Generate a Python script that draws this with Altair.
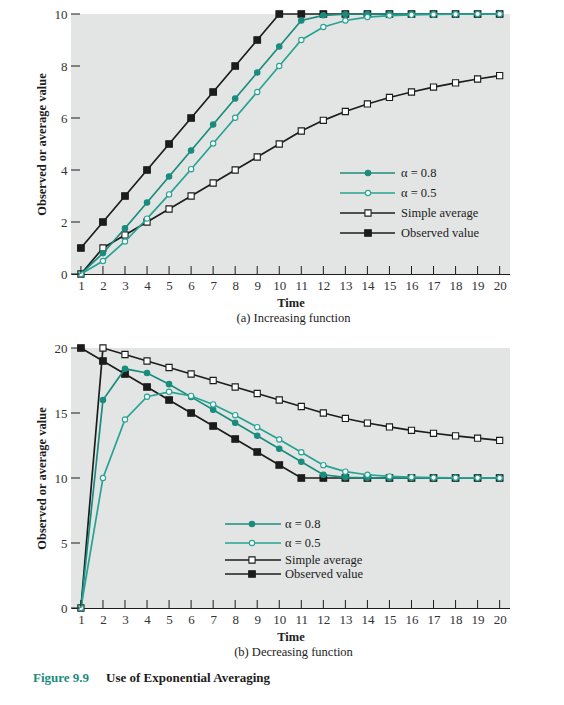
import altair as alt
import pandas as pd

# time axis and tick values
time = [1, 2, 3, 4, 5, 6, 7, 8, 9, 10, 11, 12, 13, 14, 15, 16, 17, 18, 19, 20]
inc_y_ticks = [0, 2, 4, 6, 8, 10]
dec_y_ticks = [0, 5, 10, 15, 20]

# (a) increasing function
inc_observed = [1, 2, 3, 4, 5, 6, 7, 8, 9, 10, 10, 10, 10, 10, 10, 10, 10, 10, 10, 10]
inc_simple = [0, 1, 1.5, 2, 2.5, 3, 3.5, 4, 4.5, 5, 5.5, 5.91, 6.25, 6.54, 6.79, 7.0, 7.19, 7.35, 7.5, 7.63]
inc_a08 = [0, 0.8, 1.76, 2.75, 3.75, 4.75, 5.75, 6.75, 7.75, 8.75, 9.75, 9.95, 9.99, 10, 10, 10, 10, 10, 10, 10]
inc_a05 = [0, 0.5, 1.25, 2.13, 3.06, 4.03, 5.02, 6.01, 7.0, 8.0, 9.0, 9.5, 9.75, 9.88, 9.94, 9.97, 9.98, 9.99, 10, 10]

# (b) decreasing function
dec_observed = [20, 19, 18, 17, 16, 15, 14, 13, 12, 11, 10, 10, 10, 10, 10, 10, 10, 10, 10, 10]
dec_simple = [0, 20, 19.5, 19, 18.5, 18, 17.5, 17, 16.5, 16, 15.5, 15, 14.58, 14.23, 13.93, 13.67, 13.44, 13.24, 13.06, 12.89]
dec_a08 = [0, 16, 18.4, 18.08, 17.22, 16.24, 15.25, 14.25, 13.25, 12.25, 11.25, 10.25, 10.05, 10.01, 10, 10, 10, 10, 10, 10]
dec_a05 = [0, 10, 14.5, 16.25, 16.63, 16.31, 15.66, 14.83, 13.91, 12.96, 11.98, 10.99, 10.49, 10.25, 10.12, 10.06, 10.03, 10.02, 10.01, 10]

labels = ["\u03b1 = 0.8", "\u03b1 = 0.5", "Simple average", "Observed value"]

SERIF = "Liberation Serif"
TEAL = "#1a8c7d"
TEAL2 = "#27a393"
INK = "#1c1c1c"
BG = "#e2e5e4"
W, H = 439, 260

# name -> line colour, shape, fill, size
styles = {
    "Observed value": (INK, "square", INK, 44),
    "Simple average": (INK, "square", "white", 38),
    "\u03b1 = 0.8": (TEAL, "circle", TEAL, 30),
    "\u03b1 = 0.5": (TEAL2, "circle", "white", 28),
}


def panel(series, y_max, y_ticks, subtitle, legend, caption=False):
    rows = []
    for name, vals in series.items():
        for t, v in zip(time, vals):
            rows.append({"time": t, "value": v, "series": name})
    df = pd.DataFrame(rows)

    X = alt.X("time:Q", scale=alt.Scale(domain=[0.55, 20.47], nice=False, zero=False),
              axis=alt.Axis(values=time, tickSize=0, labelPadding=5, title="Time",
                            titlePadding=4, domainColor=INK, grid=False))
    Y = alt.Y("value:Q", scale=alt.Scale(domain=[0, y_max], nice=False),
              axis=alt.Axis(values=y_ticks, tickSize=0, labelPadding=4, domain=False,
                            title="Observed or average value", titlePadding=6, grid=False))

    layers = []
    # bottom to top drawing order
    for name in ["Observed value", "Simple average", "\u03b1 = 0.8", "\u03b1 = 0.5"]:
        color, shape, fill, size = styles[name]
        sub = alt.Chart(df).transform_filter(alt.datum.series == name)
        layers.append(sub.mark_line(color=color, strokeWidth=1.7).encode(x=X, y=Y))
        layers.append(sub.mark_point(shape=shape, filled=False, fill=fill, stroke=color,
                                     strokeWidth=1.1, size=size, opacity=1).encode(x=X, y=Y))

    # inward tick marks
    xt = alt.Chart(pd.DataFrame({"time": time})).mark_rule(color=INK, strokeWidth=1).encode(
        x=X, y=alt.value(H), y2=alt.value(H - 8))
    yt = alt.Chart(pd.DataFrame({"value": y_ticks})).mark_rule(color=INK, strokeWidth=1).encode(
        y=Y, x=alt.value(0), x2=alt.value(9))
    layers += [xt, yt]

    # hand-drawn legend inside the plot
    x0, x1, xm, xl, ys = legend
    for i, name in enumerate(labels):
        color, shape, fill, size = styles[name]
        one = alt.Chart(pd.DataFrame({"label": [name]}))
        layers.append(one.mark_rule(color=color, strokeWidth=1.7).encode(
            x=alt.value(x0), x2=alt.value(x1), y=alt.value(ys[i])))
        layers.append(one.mark_point(shape=shape, filled=False, fill=fill, stroke=color,
                                     strokeWidth=1.1, size=size, opacity=1).encode(
            x=alt.value(xm), y=alt.value(ys[i])))
        layers.append(one.mark_text(align="left", baseline="middle", font=SERIF,
                                    fontSize=12.5, color=INK).encode(
            x=alt.value(xl), y=alt.value(ys[i]), text="label:N"))

    # panel subtitle under the axis title
    sub_t = alt.Chart(pd.DataFrame({"s": [subtitle]})).mark_text(
        align="center", baseline="middle", font=SERIF, fontSize=12.5, color=INK
    ).encode(x=alt.value(W / 2 + 3), y=alt.value(H + 44), text="s:N")
    layers.append(sub_t)

    if caption:
        cap = alt.Chart(pd.DataFrame({"a": ["Figure 9.9"], "b": ["Use of Exponential Averaging"]}))
        layers.append(cap.mark_text(align="left", baseline="middle", font=SERIF, fontSize=13,
                                    fontWeight="bold", color=TEAL).encode(
            x=alt.value(-38), y=alt.value(H + 70), text="a:N"))
        layers.append(cap.mark_text(align="left", baseline="middle", font=SERIF, fontSize=13,
                                    fontWeight="bold", color=INK).encode(
            x=alt.value(35), y=alt.value(H + 70), text="b:N"))

    return alt.layer(*layers).properties(width=W, height=H)


top = panel({"Observed value": inc_observed, "Simple average": inc_simple,
             "\u03b1 = 0.8": inc_a08, "\u03b1 = 0.5": inc_a05},
            10, inc_y_ticks, "(a) Increasing function",
            (269, 324, 297, 330, [159, 179, 199, 219]))

bottom = panel({"Observed value": dec_observed, "Simple average": dec_simple,
                "\u03b1 = 0.8": dec_a08, "\u03b1 = 0.5": dec_a05},
               20, dec_y_ticks, "(b) Decreasing function",
               (154, 210, 181, 214, [176, 195, 212, 226]), caption=True)

chart = alt.vconcat(top, bottom, spacing=17).properties(
    padding={"left": 25, "top": 0, "right": 0, "bottom": 0}
).configure_view(
    fill=BG, stroke=None
).configure_axis(
    labelFont=SERIF, labelFontSize=13, labelColor="#333",
    titleFont=SERIF, titleFontSize=12.5, titleFontWeight="bold", titleColor=INK,
)

chart.save("out.html", embed_options={"renderer": "svg", "actions": False})
